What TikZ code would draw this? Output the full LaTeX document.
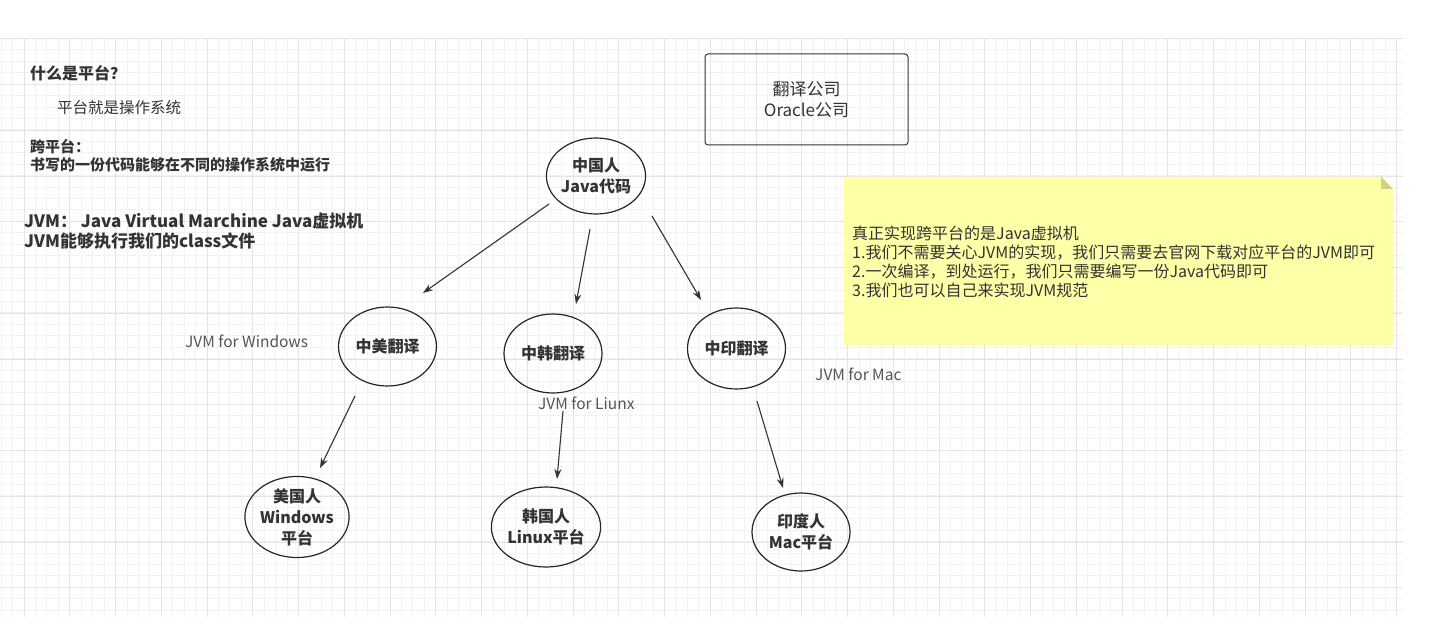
\documentclass[tikz,border=0pt]{standalone}
\usepackage{fontspec}
\setmainfont{Noto Sans CJK SC}
\usetikzlibrary{shapes.geometric,arrows.meta}
\definecolor{txt}{HTML}{333333}
\definecolor{lbltxt}{HTML}{555555}
\definecolor{gridminor}{HTML}{F2F2F2}
\definecolor{gridmajor}{HTML}{E4E4E4}
\definecolor{notey}{HTML}{FFFFA8}
\definecolor{foldc}{HTML}{D2D282}
\begin{document}
\begin{tikzpicture}[x=1pt,y=-1pt,
  ell/.style={draw=black!85, line width=1.2pt, ellipse, minimum width=98pt, minimum height=79pt, inner sep=0pt, align=center, font=\fontsize{16}{21}\selectfont\bfseries, text=txt},
  arr/.style={draw=txt, line width=1.1pt, -{Stealth[length=10pt,width=7pt]}},
  lbl/.style={anchor=west, inner sep=0pt, text=lbltxt, font=\fontsize{15.5}{18}\selectfont},
  plain/.style={anchor=west, inner sep=0pt, text=txt, align=left},
]
\useasboundingbox (0,0) rectangle (1453,617);
\fill[white] (0,0) rectangle (1453,617);
% grid
\begin{scope}
\clip (0,38.3) rectangle (1403,617);
\foreach \i in {0,...,123} {\draw[gridminor, line width=0.8pt] ({1.125+\i*11.4375},38) -- ({1.125+\i*11.4375},617);}
\foreach \i in {0,...,51} {\draw[gridminor, line width=0.8pt] (0,{38.3+\i*11.4375}) -- (1403,{38.3+\i*11.4375});}
\foreach \i in {0,...,30} {\draw[gridmajor, line width=1pt] ({24+\i*45.75},38) -- ({24+\i*45.75},617);}
\foreach \i in {0,...,13} {\draw[gridmajor, line width=1pt] (0,{38.8+\i*45.75}) -- (1403,{38.8+\i*45.75});}
\end{scope}

% left texts
\node[plain, font=\fontsize{16}{19}\selectfont\bfseries] (t1) at (30,73) {什么是平台？};
\node[plain, font=\fontsize{15.5}{19}\selectfont] (t2) at (57,108) {平台就是操作系统};
\node[plain, font=\fontsize{15}{18}\selectfont\bfseries] (t3) at (30,156) {跨平台：\\书写的一份代码能够在不同的操作系统中运行};
\node[plain, font=\fontsize{17}{20}\selectfont\bfseries] (t4) at (24,231) {JVM： Java Virtual Marchine Java虚拟机\\JVM能够执行我们的class文件};

% Oracle box
\node[draw=txt, line width=1pt, rounded corners=3pt, minimum width=203pt, minimum height=91pt, align=center, text=txt, font=\fontsize{17}{21}\selectfont] (oracle) at (806.5,99.5) {翻译公司\\Oracle公司};

% note
\fill[notey] (844,177) -- (1381,177) -- (1393,189) -- (1393,345) -- (844,345) -- cycle;
\fill[foldc] (1381,177) -- (1393,189) -- (1381,189) -- cycle;
\node[plain, font=\fontsize{16}{19}\selectfont] (note) at (852,261.5) {真正实现跨平台的是Java虚拟机\\1.我们不需要关心JVM的实现，我们只需要去官网下载对应平台的JVM即可\\2.一次编译，到处运行，我们只需要编写一份Java代码即可\\3.我们也可以自己来实现JVM规范};

% ellipses
\node[ell, minimum width=97pt, minimum height=76pt] (zg) at (596,176) {中国人\\Java代码};
\node[ell] (zm) at (387.5,346.5) {中美翻译};
\node[ell] (zh) at (553,353.5) {中韩翻译};
\node[ell, minimum height=81pt] (zy) at (736.5,348.5) {中印翻译};
\node[ell, minimum height=80pt] (mg) at (297,517) {美国人\\Windows\\平台};
\node[ell, minimum height=80pt] (hg) at (546,527) {韩国人\\Linux平台};
\node[ell, minimum height=78pt] (yd) at (801,532) {印度人\\Mac平台};

% labels
\node[lbl] (l1) at (185,341) {JVM for Windows};
\node[lbl] (l2) at (538,403) {JVM for Liunx};
\node[lbl] (l3) at (815,374) {JVM for Mac};

% arrow ends
\coordinate (a1s) at (549,204); \coordinate (a1e) at (423,293);
\coordinate (a2s) at (590,229); \coordinate (a2e) at (576,304);
\coordinate (a3s) at (652,216); \coordinate (a3e) at (701,300);
\coordinate (b1s) at (355,396); \coordinate (b1e) at (320,468);
\coordinate (b2s) at (563,411); \coordinate (b2e) at (557,479);
\coordinate (b3s) at (757,401); \coordinate (b3e) at (783,488);
\draw[arr] (a1s) -- (a1e);
\draw[arr] (a2s) -- (a2e);
\draw[arr] (a3s) -- (a3e);
\draw[arr] (b1s) -- (b1e);
\draw[arr] (b2s) -- (b2e);
\draw[arr] (b3s) -- (b3e);
\end{tikzpicture}
\end{document}
